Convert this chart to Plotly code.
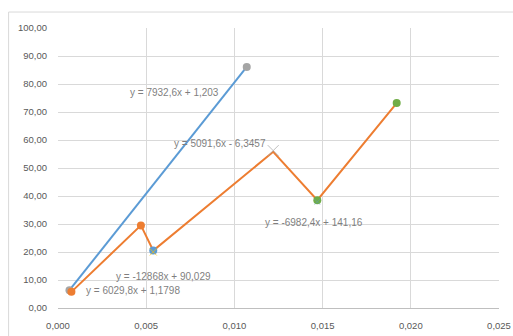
import plotly.graph_objects as go

# Straight run: first and last readings of the fast series
fast_x = [0.00065, 0.0107]
fast_y = [6.36, 86.1]

# Broken run: six readings joined in order
run_x = [0.00076, 0.0047, 0.0054, 0.0122, 0.0147, 0.0192]
run_y = [5.76, 29.5, 20.5, 55.8, 38.5, 73.2]
run_marker_colors = ["#ED7D31", "#ED7D31", "#5B9BD5", "rgba(0,0,0,0)", "#70AD47", "#70AD47"]

# Points carrying a crossing marker
cross_x = [0.0122, 0.0054, 0.0147]
cross_y = [56.2, 20.0, 37.9]
cross_colors = ["#A5A5A5", "#FFC000", "rgba(91,155,213,0.6)"]
cross_sizes = [11, 7, 6]

# Trendline equations and where they are written (x, y in data units)
eq_text = [
    "y = 7932,6x + 1,203",
    "y = 5091,6x - 6,3457",
    "y = -12868x + 90,029",
    "y = 6029,8x + 1,1798",
    "y = -6982,4x + 141,16",
]
eq_x = [0.00394, 0.00648, 0.00320, 0.00145, 0.01164]
eq_y = [76.8, 58.6, 11.4, 6.1, 30.7]

x_ticks = [0, 0.005, 0.010, 0.015, 0.020, 0.025]
y_ticks = [0, 10, 20, 30, 40, 50, 60, 70, 80, 90, 100]

fig = go.Figure()

fig.add_trace(go.Scatter(
    x=fast_x, y=fast_y, mode="lines+markers",
    line=dict(color="#5B9BD5", width=2),
    marker=dict(color="#A5A5A5", size=8),
    hoverinfo="skip", showlegend=False,
))

fig.add_trace(go.Scatter(
    x=run_x, y=run_y, mode="lines",
    line=dict(color="#ED7D31", width=2),
    hoverinfo="skip", showlegend=False,
))

fig.add_trace(go.Scatter(
    x=run_x, y=run_y, mode="markers",
    marker=dict(color=run_marker_colors, size=8),
    hoverinfo="skip", showlegend=False,
))

fig.add_trace(go.Scatter(
    x=cross_x, y=cross_y, mode="markers",
    marker=dict(symbol="x-thin", color=cross_colors, size=cross_sizes,
                line=dict(color=cross_colors, width=1)),
    hoverinfo="skip", showlegend=False,
))

for t, x, y in zip(eq_text, eq_x, eq_y):
    fig.add_annotation(
        x=x, y=y, xref="x", yref="y", text=t, showarrow=False,
        xanchor="left", yanchor="middle",
        font=dict(family="Liberation Sans, Arial, sans-serif",
                  size=10, color="#7F7F7F"),
    )

# Outer chart frame
fig.add_shape(
    type="rect", xref="paper", yref="paper",
    x0=-0.112, x1=1.2, y0=-0.2, y1=1.057,
    line=dict(color="#D9D9D9", width=1), fillcolor="rgba(0,0,0,0)", layer="above",
)

tick_font = dict(family="Liberation Sans, Arial, sans-serif", size=9.5, color="#595959")

fig.update_layout(
    width=513, height=336,
    margin=dict(l=57.5, r=14, t=28, b=28, autoexpand=False),
    paper_bgcolor="white", plot_bgcolor="white",
    separators=",.",
    xaxis=dict(
        range=[0, 0.025], tickvals=x_ticks, tickformat=".3f",
        showgrid=True, gridcolor="#D9D9D9", gridwidth=1,
        zeroline=True, zerolinecolor="rgba(0,0,0,0)",
        showline=False, ticks="", tickfont=tick_font, ticklabelstandoff=10,
        automargin=False, fixedrange=True,
    ),
    yaxis=dict(
        range=[0, 100], tickvals=y_ticks, tickformat=".2f",
        showgrid=True, gridcolor="#D9D9D9", gridwidth=1,
        zeroline=True, zerolinecolor="#BFBFBF", zerolinewidth=1,
        showline=False, ticks="", tickfont=tick_font, ticklabelstandoff=10,
        automargin=False, fixedrange=True,
    ),
)

fig.write_html("out.html")
